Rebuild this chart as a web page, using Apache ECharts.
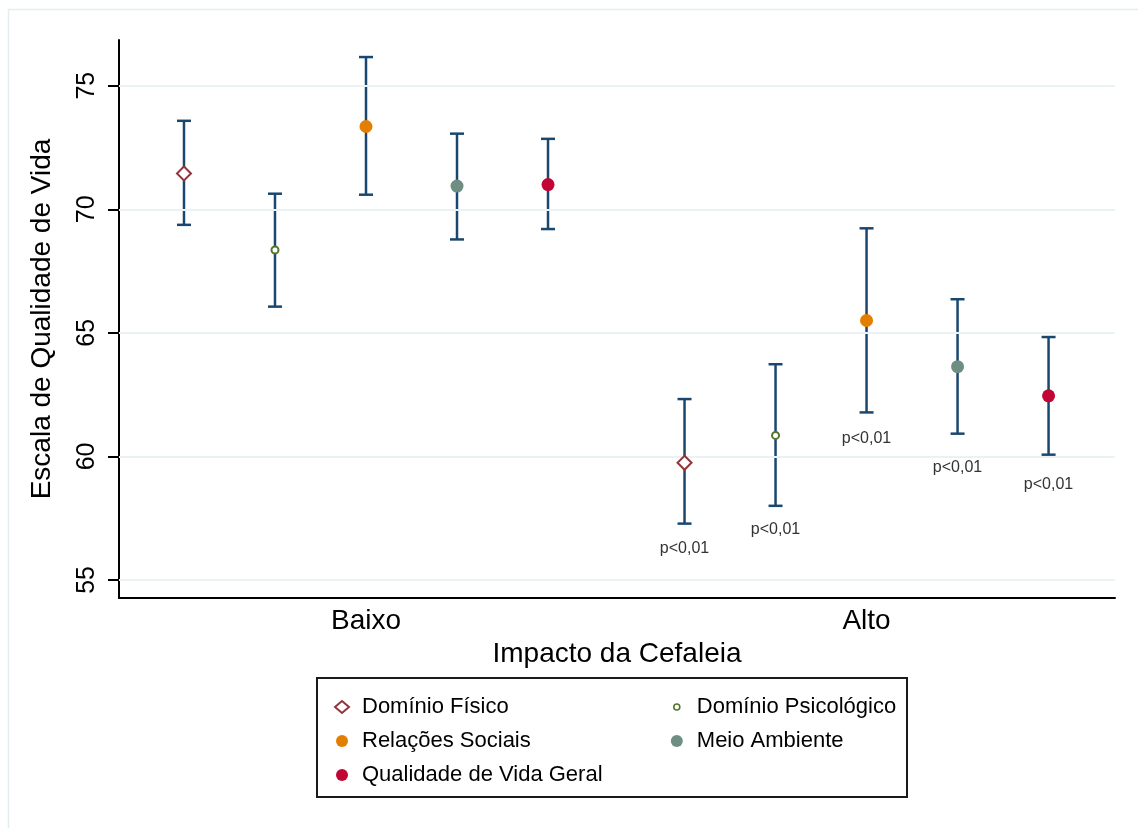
<!DOCTYPE html>
<html><head><meta charset="utf-8">
<script src="https://cdn.jsdelivr.net/npm/echarts@6/dist/echarts.min.js"></script>
<style>html,body{margin:0;padding:0;background:#fff}#c{width:1138px;height:828px}</style>
</head><body><div id="c"></div>
<script>
const groups = ['Baixo', 'Alto'];
const groupCenters = [3, 8.5];
const seriesNames = ['Domínio Físico', 'Domínio Psicológico', 'Relações Sociais', 'Meio Ambiente', 'Qualidade de Vida Geral'];
const seriesOffsets = [-2, -1, 0, 1, 2];
const meanFisico = [71.45, 59.74];
const lowFisico = [69.37, 57.28];
const highFisico = [73.58, 62.32];
const meanPsico = [68.35, 60.85];
const lowPsico = [66.06, 58.00];
const highPsico = [70.63, 63.73];
const meanSocial = [73.35, 65.50];
const lowSocial = [70.59, 61.78];
const highSocial = [76.16, 69.23];
const meanAmbiente = [70.94, 63.63];
const lowAmbiente = [68.78, 60.92];
const highAmbiente = [73.06, 66.36];
const meanGeral = [71.00, 62.45];
const lowGeral = [69.20, 60.07];
const highGeral = [72.85, 64.83];
// p-value annotations (Alto group) and the y value at which each is written
const pLabelsAlto = ['p<0,01', 'p<0,01', 'p<0,01', 'p<0,01', 'p<0,01'];
const pLabelYAlto = [56.25, 57.02, 60.74, 59.53, 58.84];
const yTicks = [55, 60, 65, 70, 75];

const FONT = '"Liberation Sans", Arial, Helvetica, sans-serif';
const colors = ['#90353b', '#55752f', '#e37e00', '#6e8e84', '#c10534'];
const symbols = ['emptyDiamond', 'emptyCircle', 'circle', 'circle', 'circle'];
const symbolSizes = [14, 7, 13, 13, 13];
const means = [meanFisico, meanPsico, meanSocial, meanAmbiente, meanGeral];
const lows = [lowFisico, lowPsico, lowSocial, lowAmbiente, lowGeral];
const highs = [highFisico, highPsico, highSocial, highAmbiente, highGeral];

const errData = [];
seriesNames.forEach((n, s) => {
  groups.forEach((g, gi) => {
    errData.push([groupCenters[gi] + seriesOffsets[s], lows[s][gi], highs[s][gi]]);
  });
});
const pData = pLabelsAlto.map((t, s) => [groupCenters[1] + seriesOffsets[s], pLabelYAlto[s]]);

const scatterSeries = seriesNames.map((n, s) => ({
  type: 'scatter',
  name: n,
  symbol: symbols[s],
  symbolSize: symbolSizes[s],
  itemStyle: { color: colors[s], opacity: 1 },
  z: 5,
  data: groups.map((g, gi) => [groupCenters[gi] + seriesOffsets[s], means[s][gi]])
}));

const chart = echarts.init(document.getElementById('c'), null, { renderer: 'canvas' });
chart.setOption({
  backgroundColor: '#fff',
  animation: false,
  textStyle: { fontFamily: FONT },
  graphic: [
    { type: 'rect', shape: { x: 8.5, y: 9.5, width: 1140, height: 830 }, style: { fill: 'none', stroke: '#e4edf0', lineWidth: 1.5 }, z: -10 },
    { type: 'rect', shape: { x: 317, y: 678, width: 590, height: 119 }, style: { fill: 'none', stroke: '#1a1a1a', lineWidth: 2 }, z: 10 }
  ],
  grid: { left: 119, top: 40, right: 23, bottom: 230, containLabel: false },
  xAxis: {
    type: 'value', min: 0.286, max: 11.23,
    name: 'Impacto da Cefaleia', nameLocation: 'middle', nameGap: 31,
    nameTextStyle: { fontSize: 28, color: '#000', fontFamily: FONT },
    axisLine: { show: true, onZero: false, lineStyle: { color: '#000', width: 2 } },
    axisTick: { show: false },
    splitLine: { show: false },
    axisLabel: {
      customValues: groupCenters, margin: 9, fontSize: 28, color: '#000', fontFamily: FONT,
      formatter: v => { const i = groupCenters.findIndex(c => Math.abs(c - v) < 1e-6); return i >= 0 ? groups[i] : ''; }
    }
  },
  yAxis: {
    type: 'value', min: 54.27, max: 76.85,
    name: 'Escala de Qualidade de Vida', nameLocation: 'middle', nameGap: 63, nameRotate: 90,
    nameTextStyle: { fontSize: 28, color: '#000', fontFamily: FONT },
    axisLine: { show: true, onZero: false, lineStyle: { color: '#000', width: 2 } },
    axisTick: { show: true, customValues: yTicks, length: 11, lineStyle: { color: '#000', width: 2 } },
    splitLine: { show: false },
    axisLabel: { customValues: yTicks, rotate: 90, margin: 19, fontSize: 25, color: '#000', fontFamily: FONT }
  },
  legend: [
    {
      orient: 'vertical', left: 329, top: 691, itemGap: 12, itemWidth: 14, itemHeight: 12,
      textStyle: { fontSize: 22, color: '#000', fontFamily: FONT, padding: [0, 0, 0, 8] },
      data: [seriesNames[0], seriesNames[2], seriesNames[4]], selectedMode: false
    },
    {
      orient: 'vertical', left: 665, top: 691, itemGap: 12, itemWidth: 14, itemHeight: 12,
      textStyle: { fontSize: 22, color: '#000', fontFamily: FONT, padding: [0, 0, 0, 8] },
      data: [
        { name: seriesNames[1], icon: 'path://M0 0M24 24M12 6A6 6 0 1 1 12 18A6 6 0 1 1 12 6Z', itemStyle: { color: '#fff', borderColor: colors[1], borderWidth: 1.6 } },
        seriesNames[3]
      ], selectedMode: false
    }
  ],
  series: [
    {
      type: 'line', data: [], silent: true, z: 0,
      markLine: {
        silent: true, symbol: 'none', label: { show: false },
        lineStyle: { color: '#eaf2f3', width: 2, type: 'solid' },
        data: yTicks.map(v => ({ yAxis: v }))
      }
    },
    {
      type: 'custom', name: 'IC', z: 3, silent: true,
      encode: { x: 0, y: [1, 2] },
      data: errData,
      renderItem: (params, api) => {
        const x = api.value(0), lo = api.value(1), hi = api.value(2);
        const pLo = api.coord([x, lo]), pHi = api.coord([x, hi]);
        const cap = 7;
        const st = { stroke: '#1a476f', lineWidth: 2.5 };
        return {
          type: 'group', children: [
            { type: 'line', shape: { x1: pLo[0], y1: pLo[1], x2: pHi[0], y2: pHi[1] }, style: st },
            { type: 'line', shape: { x1: pLo[0] - cap, y1: pLo[1], x2: pLo[0] + cap, y2: pLo[1] }, style: st },
            { type: 'line', shape: { x1: pHi[0] - cap, y1: pHi[1], x2: pHi[0] + cap, y2: pHi[1] }, style: st }
          ]
        };
      }
    },
    {
      type: 'custom', name: 'p', z: 4, silent: true,
      encode: { x: 0, y: 1 },
      data: pData,
      renderItem: (params, api) => {
        const p = api.coord([api.value(0), api.value(1)]);
        return { type: 'text', style: { text: pLabelsAlto[params.dataIndex], x: p[0], y: p[1], align: 'center', verticalAlign: 'middle', fontSize: 16, fontFamily: FONT, fill: '#333' } };
      }
    },
    ...scatterSeries
  ]
});
</script></body></html>
